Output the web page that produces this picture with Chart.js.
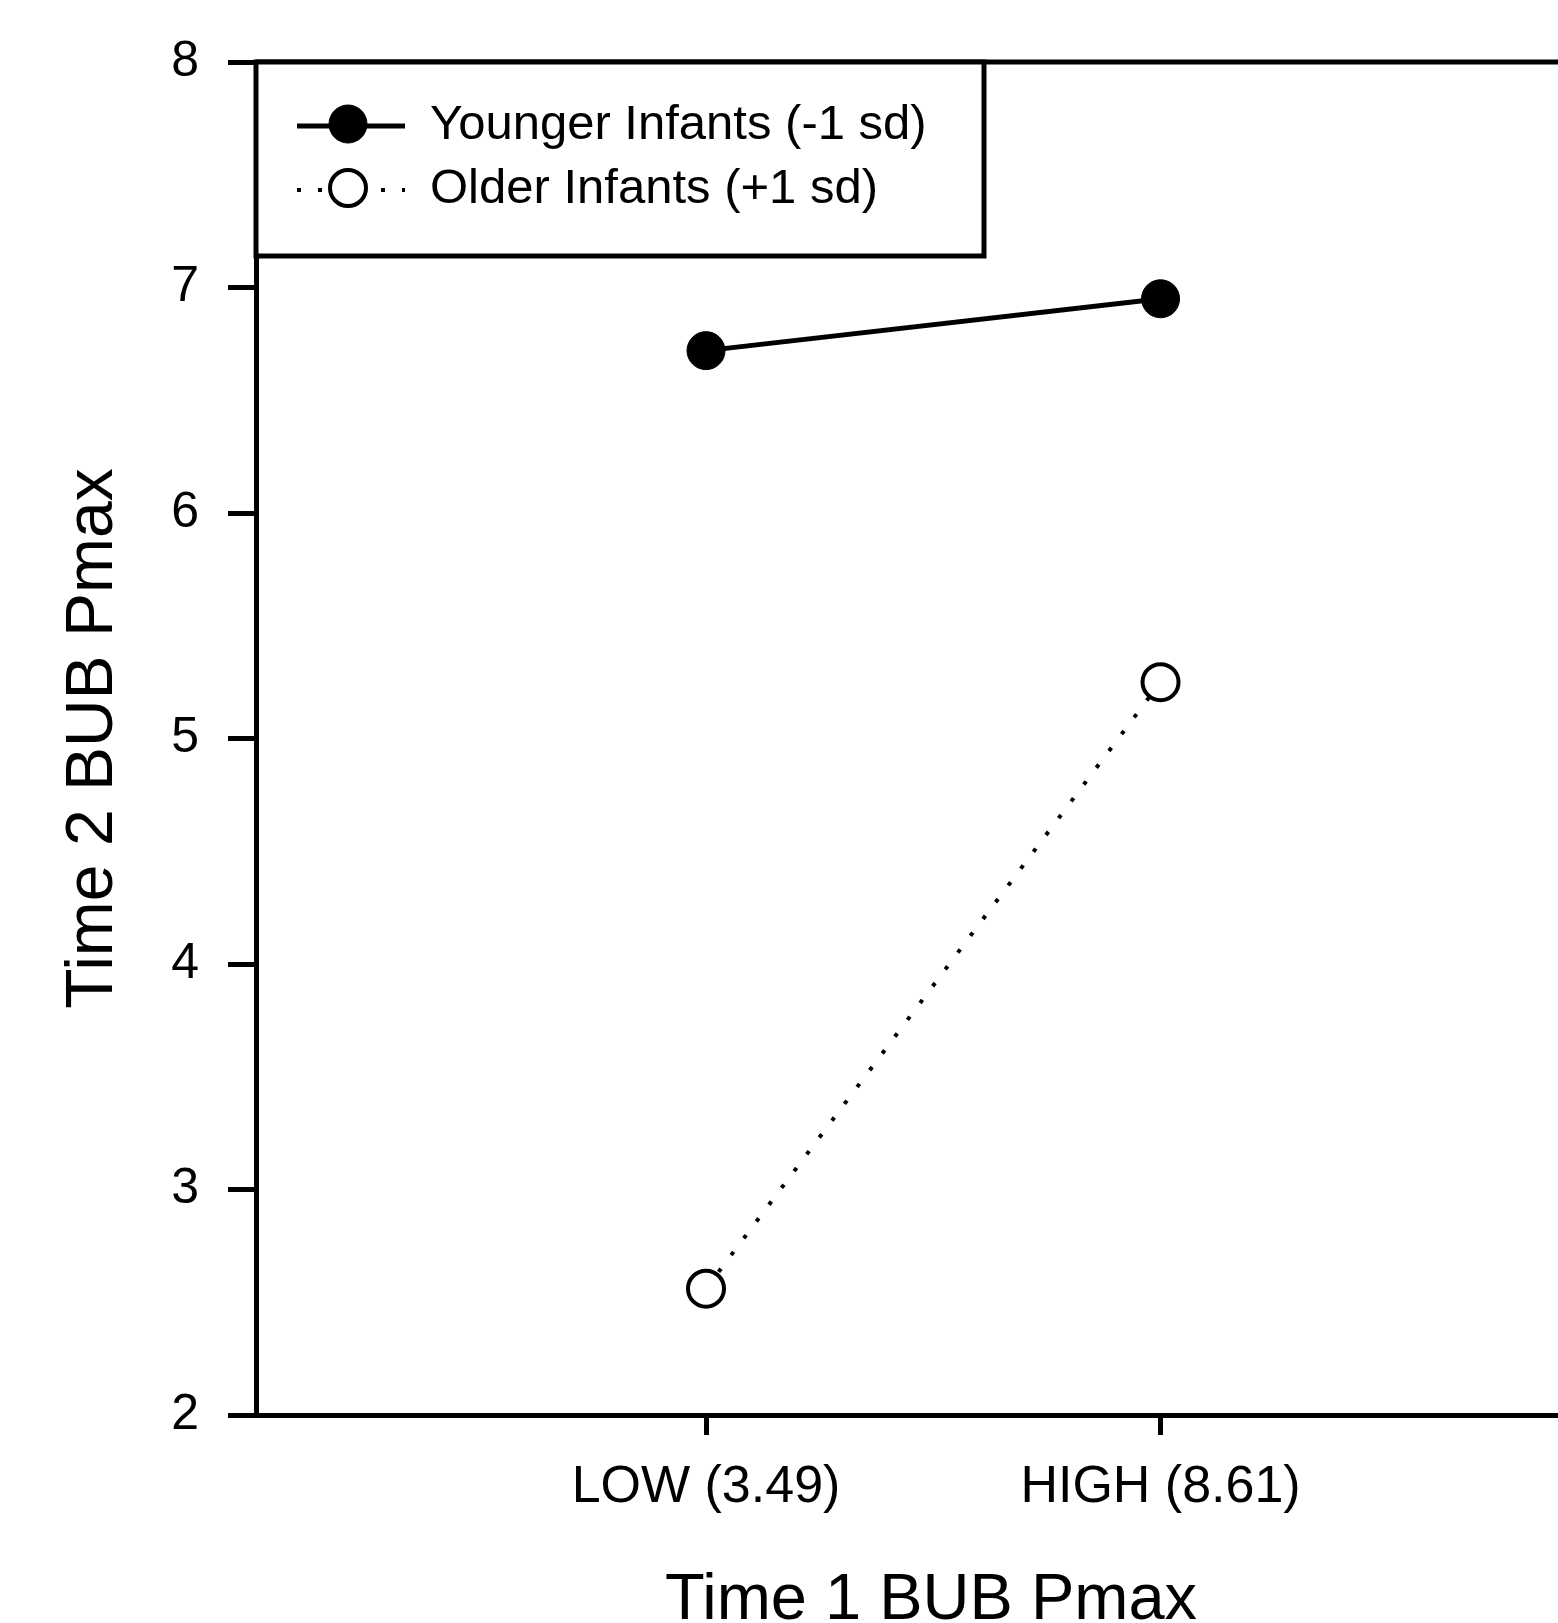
<!DOCTYPE html>
<html>
<head>
<meta charset="utf-8">
<script src="https://cdn.jsdelivr.net/npm/chart.js@4.4.1/dist/chart.umd.min.js"></script>
<style>
  html, body { margin: 0; padding: 0; background: #fff; overflow: hidden; }
  #wrap { width: 1606px; height: 1623px; }
</style>
</head>
<body>
<div id="wrap"><canvas id="pmaxChart" width="1606" height="1623"></canvas></div>
<script>
// categories on the x axis (placed at 1 and 2 on a ~0..3 scale)
const categories = ['LOW (3.49)', 'HIGH (8.61)'];
const xPositions = [1, 2];
const seriesNames = ['Younger Infants (-1 sd)', 'Older Infants (+1 sd)'];
const younger = [6.72, 6.95];
const older = [2.56, 5.25];
const yTicks = [2, 3, 4, 5, 6, 7, 8];

Chart.defaults.font.family = '"Liberation Sans", Arial, sans-serif';
Chart.defaults.color = '#000';

const toPoints = vals => vals.map((v, i) => ({ x: xPositions[i], y: v }));

// top edge of the plot frame
const frameTop = {
  id: 'frameTop',
  afterDraw(chart) {
    const { ctx, chartArea } = chart;
    ctx.save();
    ctx.strokeStyle = '#000';
    ctx.lineWidth = 5;
    ctx.beginPath();
    ctx.moveTo(chartArea.left, chartArea.top);
    ctx.lineTo(chartArea.right, chartArea.top);
    ctx.stroke();
    ctx.restore();
  }
};

// boxed legend in the top-left corner, line + marker like the original
const legendBox = {
  id: 'legendBox',
  afterDraw(chart) {
    const { ctx, chartArea } = chart;
    const x0 = chartArea.left, y0 = chartArea.top;
    ctx.save();
    ctx.fillStyle = '#fff';
    ctx.fillRect(x0, y0, 728, 194);
    ctx.strokeStyle = '#000';
    ctx.lineWidth = 5;
    ctx.strokeRect(x0, y0, 728, 194);
    chart.data.datasets.forEach((ds, i) => {
      const cy = y0 + 64 + i * 64;
      ctx.strokeStyle = '#000';
      ctx.lineCap = 'butt';
      ctx.setLineDash(ds.borderDash || []);
      ctx.lineWidth = ds.borderWidth;
      ctx.beginPath();
      ctx.moveTo(x0 + 41, cy);
      ctx.lineTo(x0 + 149, cy);
      ctx.stroke();
      ctx.setLineDash([]);
      ctx.beginPath();
      ctx.arc(x0 + 92, cy - 2, ds.pointRadius, 0, Math.PI * 2);
      ctx.fillStyle = ds.pointBackgroundColor;
      ctx.fill();
      ctx.lineWidth = ds.pointBorderWidth;
      ctx.stroke();
      ctx.fillStyle = '#000';
      ctx.font = '49px "Liberation Sans", Arial, sans-serif';
      ctx.textBaseline = 'middle';
      ctx.fillText(ds.label, x0 + 174, cy - 1);
    });
    ctx.restore();
  }
};

new Chart(document.getElementById('pmaxChart'), {
  type: 'line',
  data: {
    datasets: [
      {
        label: seriesNames[0],
        data: toPoints(younger),
        borderColor: '#000',
        borderWidth: 5,
        pointRadius: 19,
        pointBackgroundColor: '#000',
        pointBorderColor: '#000',
        pointBorderWidth: 1,
        tension: 0
      },
      {
        label: seriesNames[1],
        data: toPoints(older),
        borderColor: '#000',
        borderWidth: 4,
        borderDash: [4, 17],
        borderCapStyle: 'butt',
        pointRadius: 18,
        pointBackgroundColor: '#fff',
        pointBorderColor: '#000',
        pointBorderWidth: 4,
        tension: 0
      }
    ]
  },
  options: {
    responsive: false,
    animation: false,
    layout: { autoPadding: false, padding: { top: 62, left: 0, right: 0, bottom: 0 } },
    plugins: {
      legend: { display: false },
      tooltip: { enabled: false }
    },
    scales: {
      x: {
        type: 'linear',
        min: 0.01,
        max: 2.98,
        afterFit: s => { s.height = 208; },
        afterBuildTicks: s => { s.ticks = xPositions.map(v => ({ value: v })); },
        border: { display: true, color: '#000', width: 5 },
        grid: { drawOnChartArea: false, color: '#000', lineWidth: 5, tickLength: 20 },
        ticks: {
          padding: 21,
          maxRotation: 0,
          font: { size: 52 },
          callback: (v) => categories[xPositions.indexOf(v)]
        },
        title: {
          display: true,
          text: 'Time 1 BUB Pmax',
          font: { size: 65, lineHeight: 0.65 },
          padding: { top: 0, bottom: 1 }
        }
      },
      y: {
        min: 2,
        max: 8,
        afterFit: s => { s.width = 256; },
        afterBuildTicks: s => { s.ticks = yTicks.map(v => ({ value: v })); },
        border: { display: true, color: '#000', width: 5 },
        grid: { drawOnChartArea: false, color: '#000', lineWidth: 5, tickLength: 28 },
        ticks: {
          padding: 29,
          font: { size: 50 }
        },
        title: {
          display: true,
          text: 'Time 2 BUB Pmax',
          font: { size: 66 },
          padding: { top: 54, bottom: 0 }
        }
      }
    }
  },
  plugins: [frameTop, legendBox]
});
</script>
</body>
</html>
